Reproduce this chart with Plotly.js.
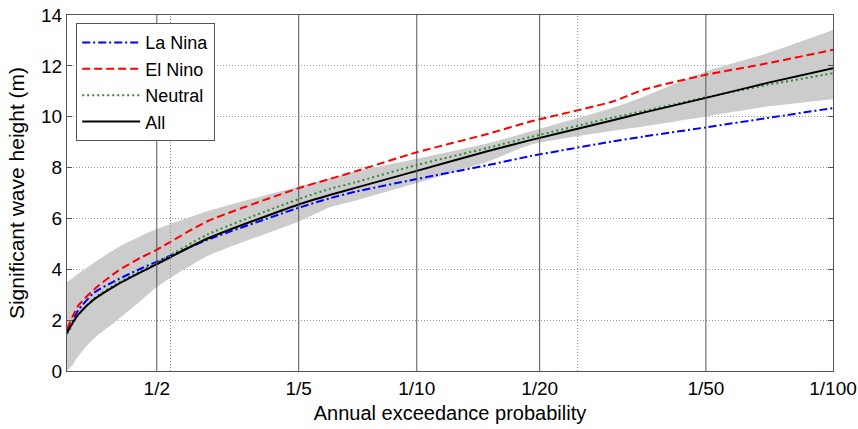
<!DOCTYPE html>
<html>
<head>
<meta charset="utf-8">
<script src="https://cdn.plot.ly/plotly-3.0.1.min.js"></script>
<style>html,body{margin:0;padding:0;background:#fff}#chart{width:858px;height:429px}</style>
</head>
<body>
<div id="chart"></div>
<script>
// Return period (years) sample points; annual exceedance probability = 1/T
const returnPeriod = [1, 1.05, 1.1, 1.25, 1.5, 1.78, 2, 2.81, 5, 6.05, 7, 10, 15, 19, 30, 35.5, 50, 70, 100];
const laNina  = [1.55, 2.00, 2.39, 3.07, 3.59, 4.02, 4.30, 5.15, 6.42, 6.80, 7.05, 7.55, 8.10, 8.45, 9.03, 9.22, 9.58, 9.95, 10.34];
const elNino  = [1.65, 2.15, 2.57, 3.20, 3.92, 4.45, 4.77, 5.88, 7.19, 7.56, 7.85, 8.60, 9.33, 9.81, 10.60, 11.06, 11.65, 12.10, 12.63];
const neutral = [1.45, 1.85, 2.20, 2.85, 3.45, 3.92, 4.25, 5.36, 6.76, 7.17, 7.42, 8.10, 8.78, 9.20, 9.97, 10.22, 10.76, 11.25, 11.71];
const allEvents = [1.50, 1.90, 2.22, 2.81, 3.40, 3.88, 4.20, 5.20, 6.55, 6.93, 7.20, 7.87, 8.65, 9.08, 9.86, 10.16, 10.74, 11.33, 11.91];
const bandUpper = [3.50, 3.65, 3.82, 4.25, 4.85, 5.30, 5.58, 6.28, 7.26, 7.59, 7.85, 8.35, 8.96, 9.42, 10.35, 10.79, 11.78, 12.50, 13.41];
const bandLower = [0.00, 0.25, 0.58, 1.28, 2.00, 2.75, 3.30, 4.51, 5.88, 6.45, 6.70, 7.39, 8.24, 8.90, 9.45, 9.62, 10.01, 10.40, 10.69];

const tickPeriods = [2, 5, 10, 20, 50, 100];
const tickLabels = ['1/2', '1/5', '1/10', '1/20', '1/50', '1/100'];
const minorGridPeriods = [2.2, 24.7];
const yTicks = [0, 2, 4, 6, 8, 10, 12, 14];

// axis transform of the figure's probability scale
const toX = t => Math.log10(t + 0.6);
const xs = returnPeriod.map(toX);

const FONT = 'Liberation Sans, Arial, Helvetica, sans-serif';

const traces = [
  {x: xs, y: bandLower, mode: 'lines', line: {width: 0, shape: 'spline', smoothing: 0.6}, showlegend: false, hoverinfo: 'skip'},
  {x: xs, y: bandUpper, mode: 'lines', fill: 'tonexty', fillcolor: '#cccccc', line: {width: 0, shape: 'spline', smoothing: 0.6}, showlegend: false, hoverinfo: 'skip'},
  {x: xs, y: laNina, name: 'La Nina', mode: 'lines', line: {color: '#0000ff', width: 2, dash: '8px,3px,2px,3px', shape: 'spline', smoothing: 0.6}},
  {x: xs, y: elNino, name: 'El Nino', mode: 'lines', line: {color: '#ff0000', width: 2, dash: '8px,4px', shape: 'spline', smoothing: 0.6}},
  {x: xs, y: neutral, name: 'Neutral', mode: 'lines', line: {color: '#2e8b2e', width: 2, dash: '2px,3px', shape: 'spline', smoothing: 0.6}},
  {x: xs, y: allEvents, name: 'All', mode: 'lines', line: {color: '#000000', width: 2, shape: 'spline', smoothing: 0.6}}
];

const shapes = [];
tickPeriods.slice(0, -1).forEach(t => shapes.push({
  type: 'line', xref: 'x', yref: 'paper', x0: toX(t), x1: toX(t), y0: 0, y1: 1,
  line: {color: '#555555', width: 1}, layer: 'above'
}));
minorGridPeriods.forEach(t => shapes.push({
  type: 'line', xref: 'x', yref: 'paper', x0: toX(t), x1: toX(t), y0: 0, y1: 1,
  line: {color: '#888888', width: 1, dash: '1px,2px'}, layer: 'above'
}));

const layout = {
  width: 858, height: 429,
  margin: {l: 67, r: 25, t: 15, b: 58},
  paper_bgcolor: '#ffffff', plot_bgcolor: '#ffffff',
  font: {family: FONT, size: 19, color: '#000000'},
  showlegend: true,
  shapes: shapes,
  xaxis: {
    range: [toX(1), toX(100)],
    tickmode: 'array', tickvals: tickPeriods.map(toX), ticktext: tickLabels,
    showgrid: false, zeroline: false,
    showline: true, mirror: true, linecolor: '#555555', linewidth: 1,
    ticks: '', tickfont: {size: 19},
    title: {text: 'Annual exceedance probability', font: {size: 20}, standoff: 8}
  },
  yaxis: {
    range: [0, 14],
    tickmode: 'array', tickvals: yTicks,
    showgrid: true, gridcolor: '#999999', griddash: '1px,2px', gridwidth: 1,
    zeroline: false,
    showline: true, mirror: 'ticks', linecolor: '#555555', linewidth: 1,
    ticks: 'inside', ticklen: 5, tickcolor: '#555555',
    tickfont: {size: 19},
    title: {text: 'Significant wave height (m)', font: {size: 21}, standoff: 10}
  },
  legend: {
    x: 0.012, y: 0.977, xanchor: 'left', yanchor: 'top',
    traceorder: 'normal',
    bgcolor: '#ffffff', bordercolor: '#555555', borderwidth: 1,
    font: {family: FONT, size: 18}, itemwidth: 58
  }
};

Plotly.newPlot('chart', traces, layout, {staticPlot: true, displayModeBar: false});
</script>
</body>
</html>
